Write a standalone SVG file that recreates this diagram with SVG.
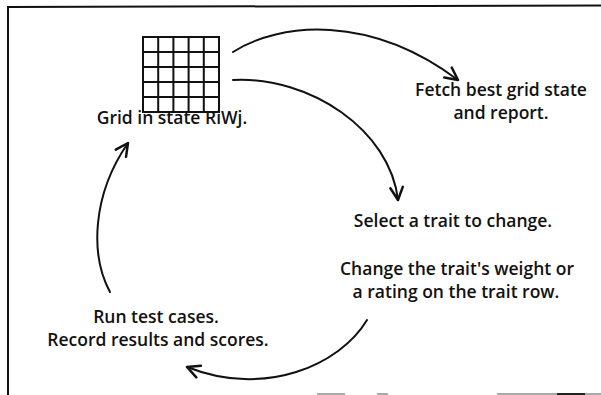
<svg xmlns="http://www.w3.org/2000/svg" width="601" height="395" viewBox="0 0 601 395">
<style>
.t{font-family:"Open Sans","Liberation Sans",sans-serif;font-size:17.5px;font-weight:600;fill:#111;text-anchor:middle}
.c{fill:none;stroke:#111;stroke-width:2;stroke-linecap:round}
.g{fill:none;stroke:#111;stroke-width:2}
</style>
<defs>
<marker id="ah" markerUnits="userSpaceOnUse" markerWidth="20" markerHeight="20" refX="0" refY="0" viewBox="-12 -8 14 16" orient="auto">
<path d="M-10,-5 L0,0 L-10,5" fill="none" stroke="#111" stroke-width="2" stroke-linecap="round" stroke-linejoin="round"/>
</marker>
</defs>
<rect width="601" height="395" fill="#fff"/>
<g id="frame">
<path d="M601,5.5 L8,7 L8,395" fill="none" stroke="#111" stroke-width="2"/>
<g stroke="#aaa" stroke-width="2">
<line x1="317" y1="394" x2="345" y2="394"/>
<line x1="377" y1="394" x2="388" y2="394"/>
<line x1="497" y1="394" x2="601" y2="394"/>
</g>
<line x1="557" y1="394" x2="585" y2="394" stroke="#222" stroke-width="2"/>
</g>
<g id="grid">
<rect class="g" x="143" y="37" width="76" height="75"/>
<path class="g" d="M158.2,37V112M173.4,37V112M188.6,37V112M203.8,37V112M143,52H219M143,67H219M143,82H219M143,97H219"/>
<text class="t" x="172" y="124">Grid in state RiWj.</text>
</g>
<g id="fetch">
<text class="t" x="501" y="96">Fetch best grid state</text>
<text class="t" x="501" y="118.5">and report.</text>
</g>
<g id="select">
<text class="t" x="453" y="227">Select a trait to change.</text>
</g>
<g id="change">
<text class="t" x="457" y="275">Change the trait's weight or</text>
<text class="t" x="456" y="297.5">a rating on the trait row.</text>
</g>
<g id="run">
<text class="t" x="156" y="323">Run test cases.</text>
<text class="t" x="158" y="346">Record results and scores.</text>
</g>
<g id="connectors">
<path class="c" d="M233,52 C280,22 370,14 458,80" marker-end="url(#ah)"/>
<path class="c" d="M233,80 C310,76 390,130 398,200" marker-end="url(#ah)"/>
<path class="c" d="M367,320 C340,365 265,398 187,367" marker-end="url(#ah)"/>
<path class="c" d="M110,292 C90,255 92,195 128,143" marker-end="url(#ah)"/>
</g>
</svg>
